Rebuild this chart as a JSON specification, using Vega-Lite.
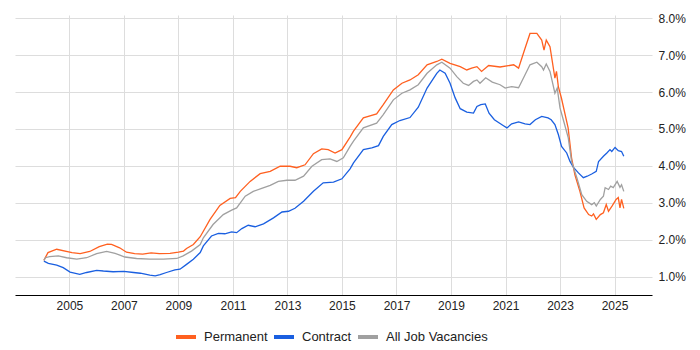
{
  "$schema": "https://vega.github.io/schema/vega-lite/v6.json",
  "width": 637,
  "height": 280,
  "autosize": {"type": "none"},
  "padding": {"left": 15, "top": 15, "right": 48, "bottom": 55},
  "background": "white",
  "config": {
    "view": {"stroke": null},
    "font": "Liberation Sans",
    "axis": {"labelFont": "Liberation Sans", "labelFontSize": 12, "labelColor": "#222", "gridColor": "#dddddd", "gridWidth": 1, "tickSize": 0, "ticks": false, "title": null},
    "legend": {"labelFont": "Liberation Sans", "labelFontSize": 13, "labelColor": "#222"}
  },
  "datasets": {
    "rows": [
      {"d": "2004-01-25", "s": "Permanent", "v": 1.44},
      {"d": "2004-03-20", "s": "Permanent", "v": 1.65},
      {"d": "2004-07-15", "s": "Permanent", "v": 1.74},
      {"d": "2005-02-05", "s": "Permanent", "v": 1.65},
      {"d": "2005-05-25", "s": "Permanent", "v": 1.62},
      {"d": "2005-10-01", "s": "Permanent", "v": 1.68},
      {"d": "2006-02-05", "s": "Permanent", "v": 1.81},
      {"d": "2006-05-25", "s": "Permanent", "v": 1.88},
      {"d": "2006-07-20", "s": "Permanent", "v": 1.87},
      {"d": "2006-11-05", "s": "Permanent", "v": 1.78},
      {"d": "2007-02-05", "s": "Permanent", "v": 1.66},
      {"d": "2007-05-25", "s": "Permanent", "v": 1.62},
      {"d": "2007-09-10", "s": "Permanent", "v": 1.61},
      {"d": "2008-01-01", "s": "Permanent", "v": 1.64},
      {"d": "2008-04-20", "s": "Permanent", "v": 1.62},
      {"d": "2008-09-10", "s": "Permanent", "v": 1.63},
      {"d": "2009-01-01", "s": "Permanent", "v": 1.66},
      {"d": "2009-03-10", "s": "Permanent", "v": 1.69},
      {"d": "2009-04-20", "s": "Permanent", "v": 1.76},
      {"d": "2009-07-20", "s": "Permanent", "v": 1.87},
      {"d": "2009-10-20", "s": "Permanent", "v": 2.08},
      {"d": "2010-03-01", "s": "Permanent", "v": 2.55},
      {"d": "2010-07-10", "s": "Permanent", "v": 2.93},
      {"d": "2010-11-25", "s": "Permanent", "v": 3.12},
      {"d": "2011-02-05", "s": "Permanent", "v": 3.14},
      {"d": "2011-04-10", "s": "Permanent", "v": 3.31},
      {"d": "2011-08-20", "s": "Permanent", "v": 3.58},
      {"d": "2012-01-01", "s": "Permanent", "v": 3.79},
      {"d": "2012-05-15", "s": "Permanent", "v": 3.85},
      {"d": "2012-09-25", "s": "Permanent", "v": 3.99},
      {"d": "2013-02-05", "s": "Permanent", "v": 3.99},
      {"d": "2013-05-05", "s": "Permanent", "v": 3.95},
      {"d": "2013-08-25", "s": "Permanent", "v": 4.03},
      {"d": "2013-12-15", "s": "Permanent", "v": 4.33},
      {"d": "2014-04-05", "s": "Permanent", "v": 4.46},
      {"d": "2014-07-01", "s": "Permanent", "v": 4.44},
      {"d": "2014-10-01", "s": "Permanent", "v": 4.35},
      {"d": "2015-01-01", "s": "Permanent", "v": 4.44},
      {"d": "2015-04-20", "s": "Permanent", "v": 4.78},
      {"d": "2015-06-05", "s": "Permanent", "v": 4.94},
      {"d": "2015-10-15", "s": "Permanent", "v": 5.30},
      {"d": "2016-04-10", "s": "Permanent", "v": 5.41},
      {"d": "2016-07-08", "s": "Permanent", "v": 5.66},
      {"d": "2016-11-20", "s": "Permanent", "v": 6.06},
      {"d": "2017-03-15", "s": "Permanent", "v": 6.24},
      {"d": "2017-07-01", "s": "Permanent", "v": 6.33},
      {"d": "2017-10-20", "s": "Permanent", "v": 6.47},
      {"d": "2018-02-15", "s": "Permanent", "v": 6.74},
      {"d": "2018-06-25", "s": "Permanent", "v": 6.83},
      {"d": "2018-09-01", "s": "Permanent", "v": 6.89},
      {"d": "2018-12-20", "s": "Permanent", "v": 6.78},
      {"d": "2019-05-05", "s": "Permanent", "v": 6.69},
      {"d": "2019-08-01", "s": "Permanent", "v": 6.60},
      {"d": "2019-10-05", "s": "Permanent", "v": 6.65},
      {"d": "2019-12-15", "s": "Permanent", "v": 6.69},
      {"d": "2020-02-15", "s": "Permanent", "v": 6.56},
      {"d": "2020-05-20", "s": "Permanent", "v": 6.72},
      {"d": "2020-10-20", "s": "Permanent", "v": 6.68},
      {"d": "2021-04-20", "s": "Permanent", "v": 6.74},
      {"d": "2021-06-25", "s": "Permanent", "v": 6.65},
      {"d": "2021-09-20", "s": "Permanent", "v": 7.19},
      {"d": "2021-11-25", "s": "Permanent", "v": 7.59},
      {"d": "2022-02-25", "s": "Permanent", "v": 7.59},
      {"d": "2022-05-01", "s": "Permanent", "v": 7.41},
      {"d": "2022-06-01", "s": "Permanent", "v": 7.14},
      {"d": "2022-07-01", "s": "Permanent", "v": 7.41},
      {"d": "2022-08-20", "s": "Permanent", "v": 7.23},
      {"d": "2022-10-25", "s": "Permanent", "v": 6.38},
      {"d": "2022-11-15", "s": "Permanent", "v": 6.56},
      {"d": "2022-12-10", "s": "Permanent", "v": 6.15},
      {"d": "2023-01-20", "s": "Permanent", "v": 5.84},
      {"d": "2023-04-20", "s": "Permanent", "v": 5.03},
      {"d": "2023-06-05", "s": "Permanent", "v": 4.22},
      {"d": "2023-07-20", "s": "Permanent", "v": 3.76},
      {"d": "2023-09-25", "s": "Permanent", "v": 3.31},
      {"d": "2023-11-20", "s": "Permanent", "v": 2.86},
      {"d": "2024-01-20", "s": "Permanent", "v": 2.68},
      {"d": "2024-03-01", "s": "Permanent", "v": 2.64},
      {"d": "2024-03-25", "s": "Permanent", "v": 2.70},
      {"d": "2024-05-01", "s": "Permanent", "v": 2.55},
      {"d": "2024-06-25", "s": "Permanent", "v": 2.68},
      {"d": "2024-08-05", "s": "Permanent", "v": 2.73},
      {"d": "2024-09-12", "s": "Permanent", "v": 2.95},
      {"d": "2024-10-12", "s": "Permanent", "v": 2.77},
      {"d": "2024-11-28", "s": "Permanent", "v": 2.91},
      {"d": "2025-01-22", "s": "Permanent", "v": 3.09},
      {"d": "2025-02-20", "s": "Permanent", "v": 3.14},
      {"d": "2025-03-15", "s": "Permanent", "v": 2.86},
      {"d": "2025-04-05", "s": "Permanent", "v": 3.09},
      {"d": "2025-05-05", "s": "Permanent", "v": 2.85},

      {"d": "2004-01-25", "s": "Contract", "v": 1.42},
      {"d": "2004-03-25", "s": "Contract", "v": 1.36},
      {"d": "2004-07-15", "s": "Contract", "v": 1.31},
      {"d": "2004-10-10", "s": "Contract", "v": 1.24},
      {"d": "2005-01-10", "s": "Contract", "v": 1.12},
      {"d": "2005-05-20", "s": "Contract", "v": 1.06},
      {"d": "2005-08-20", "s": "Contract", "v": 1.11},
      {"d": "2006-01-01", "s": "Contract", "v": 1.17},
      {"d": "2006-04-01", "s": "Contract", "v": 1.15},
      {"d": "2006-08-10", "s": "Contract", "v": 1.13},
      {"d": "2007-01-01", "s": "Contract", "v": 1.14},
      {"d": "2007-05-10", "s": "Contract", "v": 1.11},
      {"d": "2007-08-10", "s": "Contract", "v": 1.09},
      {"d": "2007-12-15", "s": "Contract", "v": 1.04},
      {"d": "2008-02-25", "s": "Contract", "v": 1.02},
      {"d": "2008-05-01", "s": "Contract", "v": 1.05},
      {"d": "2008-07-25", "s": "Contract", "v": 1.11},
      {"d": "2008-11-15", "s": "Contract", "v": 1.18},
      {"d": "2009-01-22", "s": "Contract", "v": 1.20},
      {"d": "2009-04-20", "s": "Contract", "v": 1.33},
      {"d": "2009-07-20", "s": "Contract", "v": 1.47},
      {"d": "2009-10-20", "s": "Contract", "v": 1.65},
      {"d": "2009-12-01", "s": "Contract", "v": 1.83},
      {"d": "2010-03-20", "s": "Contract", "v": 2.10},
      {"d": "2010-06-20", "s": "Contract", "v": 2.17},
      {"d": "2010-09-15", "s": "Contract", "v": 2.16},
      {"d": "2010-12-15", "s": "Contract", "v": 2.21},
      {"d": "2011-02-20", "s": "Contract", "v": 2.19},
      {"d": "2011-05-01", "s": "Contract", "v": 2.30},
      {"d": "2011-07-25", "s": "Contract", "v": 2.39},
      {"d": "2011-10-25", "s": "Contract", "v": 2.35},
      {"d": "2012-02-15", "s": "Contract", "v": 2.43},
      {"d": "2012-06-28", "s": "Contract", "v": 2.59},
      {"d": "2012-10-20", "s": "Contract", "v": 2.75},
      {"d": "2013-01-15", "s": "Contract", "v": 2.77},
      {"d": "2013-04-12", "s": "Contract", "v": 2.85},
      {"d": "2013-08-05", "s": "Contract", "v": 3.04},
      {"d": "2013-12-15", "s": "Contract", "v": 3.31},
      {"d": "2014-04-25", "s": "Contract", "v": 3.54},
      {"d": "2014-09-10", "s": "Contract", "v": 3.56},
      {"d": "2015-01-01", "s": "Contract", "v": 3.65},
      {"d": "2015-04-20", "s": "Contract", "v": 3.92},
      {"d": "2015-06-05", "s": "Contract", "v": 4.08},
      {"d": "2015-10-15", "s": "Contract", "v": 4.44},
      {"d": "2016-02-05", "s": "Contract", "v": 4.49},
      {"d": "2016-05-05", "s": "Contract", "v": 4.55},
      {"d": "2016-07-08", "s": "Contract", "v": 4.80},
      {"d": "2016-10-30", "s": "Contract", "v": 5.12},
      {"d": "2017-02-15", "s": "Contract", "v": 5.23},
      {"d": "2017-07-01", "s": "Contract", "v": 5.31},
      {"d": "2017-10-20", "s": "Contract", "v": 5.59},
      {"d": "2018-02-15", "s": "Contract", "v": 6.11},
      {"d": "2018-06-25", "s": "Contract", "v": 6.51},
      {"d": "2018-08-05", "s": "Contract", "v": 6.60},
      {"d": "2018-10-15", "s": "Contract", "v": 6.51},
      {"d": "2018-12-20", "s": "Contract", "v": 6.24},
      {"d": "2019-02-25", "s": "Contract", "v": 5.85},
      {"d": "2019-05-05", "s": "Contract", "v": 5.55},
      {"d": "2019-08-01", "s": "Contract", "v": 5.46},
      {"d": "2019-10-30", "s": "Contract", "v": 5.43},
      {"d": "2019-12-15", "s": "Contract", "v": 5.61},
      {"d": "2020-02-05", "s": "Contract", "v": 5.66},
      {"d": "2020-04-05", "s": "Contract", "v": 5.68},
      {"d": "2020-05-25", "s": "Contract", "v": 5.43},
      {"d": "2020-08-05", "s": "Contract", "v": 5.25},
      {"d": "2020-12-05", "s": "Contract", "v": 5.09},
      {"d": "2021-01-20", "s": "Contract", "v": 5.03},
      {"d": "2021-03-25", "s": "Contract", "v": 5.14},
      {"d": "2021-06-25", "s": "Contract", "v": 5.19},
      {"d": "2021-09-20", "s": "Contract", "v": 5.14},
      {"d": "2021-11-25", "s": "Contract", "v": 5.12},
      {"d": "2022-02-05", "s": "Contract", "v": 5.25},
      {"d": "2022-05-01", "s": "Contract", "v": 5.34},
      {"d": "2022-07-25", "s": "Contract", "v": 5.30},
      {"d": "2022-09-05", "s": "Contract", "v": 5.25},
      {"d": "2022-10-25", "s": "Contract", "v": 5.12},
      {"d": "2022-12-10", "s": "Contract", "v": 4.85},
      {"d": "2023-01-22", "s": "Contract", "v": 4.53},
      {"d": "2023-04-01", "s": "Contract", "v": 4.35},
      {"d": "2023-05-15", "s": "Contract", "v": 4.12},
      {"d": "2023-07-01", "s": "Contract", "v": 3.96},
      {"d": "2023-09-05", "s": "Contract", "v": 3.81},
      {"d": "2023-11-10", "s": "Contract", "v": 3.68},
      {"d": "2024-01-01", "s": "Contract", "v": 3.72},
      {"d": "2024-03-01", "s": "Contract", "v": 3.78},
      {"d": "2024-05-01", "s": "Contract", "v": 3.85},
      {"d": "2024-06-01", "s": "Contract", "v": 4.12},
      {"d": "2024-08-05", "s": "Contract", "v": 4.26},
      {"d": "2024-09-20", "s": "Contract", "v": 4.35},
      {"d": "2024-11-01", "s": "Contract", "v": 4.44},
      {"d": "2024-11-25", "s": "Contract", "v": 4.39},
      {"d": "2025-01-08", "s": "Contract", "v": 4.50},
      {"d": "2025-02-20", "s": "Contract", "v": 4.41},
      {"d": "2025-04-05", "s": "Contract", "v": 4.39},
      {"d": "2025-05-05", "s": "Contract", "v": 4.26},

      {"d": "2004-01-25", "s": "All Job Vacancies", "v": 1.44},
      {"d": "2004-02-15", "s": "All Job Vacancies", "v": 1.51},
      {"d": "2004-04-10", "s": "All Job Vacancies", "v": 1.54},
      {"d": "2004-08-05", "s": "All Job Vacancies", "v": 1.56},
      {"d": "2004-11-25", "s": "All Job Vacancies", "v": 1.51},
      {"d": "2005-04-10", "s": "All Job Vacancies", "v": 1.47},
      {"d": "2005-08-20", "s": "All Job Vacancies", "v": 1.51},
      {"d": "2006-01-01", "s": "All Job Vacancies", "v": 1.62},
      {"d": "2006-05-15", "s": "All Job Vacancies", "v": 1.68},
      {"d": "2006-09-05", "s": "All Job Vacancies", "v": 1.63},
      {"d": "2007-01-15", "s": "All Job Vacancies", "v": 1.53},
      {"d": "2007-06-20", "s": "All Job Vacancies", "v": 1.49},
      {"d": "2007-12-15", "s": "All Job Vacancies", "v": 1.47},
      {"d": "2008-06-15", "s": "All Job Vacancies", "v": 1.47},
      {"d": "2008-12-10", "s": "All Job Vacancies", "v": 1.49},
      {"d": "2009-03-05", "s": "All Job Vacancies", "v": 1.56},
      {"d": "2009-06-25", "s": "All Job Vacancies", "v": 1.69},
      {"d": "2009-10-20", "s": "All Job Vacancies", "v": 1.87},
      {"d": "2009-12-01", "s": "All Job Vacancies", "v": 2.05},
      {"d": "2010-04-10", "s": "All Job Vacancies", "v": 2.41},
      {"d": "2010-08-25", "s": "All Job Vacancies", "v": 2.68},
      {"d": "2010-12-15", "s": "All Job Vacancies", "v": 2.80},
      {"d": "2011-02-20", "s": "All Job Vacancies", "v": 2.86},
      {"d": "2011-06-15", "s": "All Job Vacancies", "v": 3.18},
      {"d": "2011-10-01", "s": "All Job Vacancies", "v": 3.31},
      {"d": "2012-01-22", "s": "All Job Vacancies", "v": 3.39},
      {"d": "2012-05-15", "s": "All Job Vacancies", "v": 3.47},
      {"d": "2012-09-01", "s": "All Job Vacancies", "v": 3.58},
      {"d": "2012-12-25", "s": "All Job Vacancies", "v": 3.61},
      {"d": "2013-04-12", "s": "All Job Vacancies", "v": 3.61},
      {"d": "2013-08-05", "s": "All Job Vacancies", "v": 3.72},
      {"d": "2013-11-25", "s": "All Job Vacancies", "v": 3.99},
      {"d": "2014-04-05", "s": "All Job Vacancies", "v": 4.17},
      {"d": "2014-07-25", "s": "All Job Vacancies", "v": 4.19},
      {"d": "2014-10-25", "s": "All Job Vacancies", "v": 4.12},
      {"d": "2015-01-20", "s": "All Job Vacancies", "v": 4.22},
      {"d": "2015-04-20", "s": "All Job Vacancies", "v": 4.53},
      {"d": "2015-06-05", "s": "All Job Vacancies", "v": 4.67},
      {"d": "2015-10-15", "s": "All Job Vacancies", "v": 5.03},
      {"d": "2016-04-10", "s": "All Job Vacancies", "v": 5.16},
      {"d": "2016-07-08", "s": "All Job Vacancies", "v": 5.39},
      {"d": "2016-11-20", "s": "All Job Vacancies", "v": 5.79},
      {"d": "2017-03-15", "s": "All Job Vacancies", "v": 5.97},
      {"d": "2017-07-01", "s": "All Job Vacancies", "v": 6.06},
      {"d": "2017-10-20", "s": "All Job Vacancies", "v": 6.20},
      {"d": "2018-02-15", "s": "All Job Vacancies", "v": 6.51},
      {"d": "2018-06-25", "s": "All Job Vacancies", "v": 6.74},
      {"d": "2018-09-01", "s": "All Job Vacancies", "v": 6.81},
      {"d": "2018-12-20", "s": "All Job Vacancies", "v": 6.65},
      {"d": "2019-03-20", "s": "All Job Vacancies", "v": 6.42},
      {"d": "2019-06-15", "s": "All Job Vacancies", "v": 6.24},
      {"d": "2019-08-25", "s": "All Job Vacancies", "v": 6.18},
      {"d": "2019-10-30", "s": "All Job Vacancies", "v": 6.29},
      {"d": "2019-12-15", "s": "All Job Vacancies", "v": 6.33},
      {"d": "2020-01-25", "s": "All Job Vacancies", "v": 6.24},
      {"d": "2020-04-10", "s": "All Job Vacancies", "v": 6.39},
      {"d": "2020-07-08", "s": "All Job Vacancies", "v": 6.27},
      {"d": "2020-10-20", "s": "All Job Vacancies", "v": 6.20},
      {"d": "2020-12-28", "s": "All Job Vacancies", "v": 6.11},
      {"d": "2021-03-25", "s": "All Job Vacancies", "v": 6.15},
      {"d": "2021-06-25", "s": "All Job Vacancies", "v": 6.12},
      {"d": "2021-09-20", "s": "All Job Vacancies", "v": 6.47},
      {"d": "2021-11-25", "s": "All Job Vacancies", "v": 6.74},
      {"d": "2022-02-25", "s": "All Job Vacancies", "v": 6.81},
      {"d": "2022-05-01", "s": "All Job Vacancies", "v": 6.69},
      {"d": "2022-05-25", "s": "All Job Vacancies", "v": 6.60},
      {"d": "2022-07-01", "s": "All Job Vacancies", "v": 6.76},
      {"d": "2022-08-20", "s": "All Job Vacancies", "v": 6.56},
      {"d": "2022-10-25", "s": "All Job Vacancies", "v": 5.97},
      {"d": "2022-11-25", "s": "All Job Vacancies", "v": 6.11},
      {"d": "2023-01-01", "s": "All Job Vacancies", "v": 5.57},
      {"d": "2023-02-20", "s": "All Job Vacancies", "v": 5.21},
      {"d": "2023-04-22", "s": "All Job Vacancies", "v": 4.76},
      {"d": "2023-06-05", "s": "All Job Vacancies", "v": 4.12},
      {"d": "2023-08-15", "s": "All Job Vacancies", "v": 3.68},
      {"d": "2023-10-20", "s": "All Job Vacancies", "v": 3.22},
      {"d": "2023-12-25", "s": "All Job Vacancies", "v": 3.04},
      {"d": "2024-03-01", "s": "All Job Vacancies", "v": 2.95},
      {"d": "2024-04-05", "s": "All Job Vacancies", "v": 3.00},
      {"d": "2024-05-01", "s": "All Job Vacancies", "v": 2.91},
      {"d": "2024-06-25", "s": "All Job Vacancies", "v": 3.09},
      {"d": "2024-08-05", "s": "All Job Vacancies", "v": 3.18},
      {"d": "2024-08-28", "s": "All Job Vacancies", "v": 3.41},
      {"d": "2024-10-12", "s": "All Job Vacancies", "v": 3.36},
      {"d": "2024-11-10", "s": "All Job Vacancies", "v": 3.45},
      {"d": "2024-12-15", "s": "All Job Vacancies", "v": 3.41},
      {"d": "2025-02-05", "s": "All Job Vacancies", "v": 3.58},
      {"d": "2025-03-15", "s": "All Job Vacancies", "v": 3.42},
      {"d": "2025-04-05", "s": "All Job Vacancies", "v": 3.49},
      {"d": "2025-05-05", "s": "All Job Vacancies", "v": 3.31}
    ]
  },
  "data": {"name": "rows"},
  "mark": {"type": "line", "strokeWidth": 1.3, "interpolate": "linear"},
  "encoding": {
    "x": {
      "field": "d",
      "type": "temporal",
      "scale": {"type": "utc", "domain": ["2003-01-03", "2026-05-18"], "nice": false},
      "axis": {
        "values": ["2005-01-01", "2007-01-01", "2009-01-01", "2011-01-01", "2013-01-01", "2015-01-01", "2017-01-01", "2019-01-01", "2021-01-01", "2023-01-01", "2025-01-01"],
        "format": "%Y",
        "formatType": "utc",
        "grid": true,
        "domain": true,
        "domainColor": "#000000",
        "domainWidth": 1,
        "labelPadding": 5,
        "labelFlush": false
      }
    },
    "y": {
      "field": "v",
      "type": "quantitative",
      "scale": {"domain": [0.5, 8.09], "nice": false, "zero": false},
      "axis": {
        "orient": "right",
        "values": [1, 2, 3, 4, 5, 6, 7, 8],
        "labelExpr": "format(datum.value, '.1f') + '%'",
        "grid": true,
        "domain": false,
        "labelPadding": 6,
        "labelAlign": "left"
      }
    },
    "color": {
      "field": "s",
      "type": "nominal",
      "scale": {"domain": ["Permanent", "Contract", "All Job Vacancies"], "range": ["#FF6020", "#1A5FE0", "#A0A0A0"]},
      "legend": {
        "title": null,
        "orient": "none",
        "legendX": 159,
        "legendY": 310,
        "direction": "horizontal",
        "gridAlign": "none",
        "symbolType": "stroke",
        "symbolSize": 400,
        "symbolStrokeWidth": 4,
        "labelOffset": 6,
        "columnPadding": -2
      }
    }
  }
}
